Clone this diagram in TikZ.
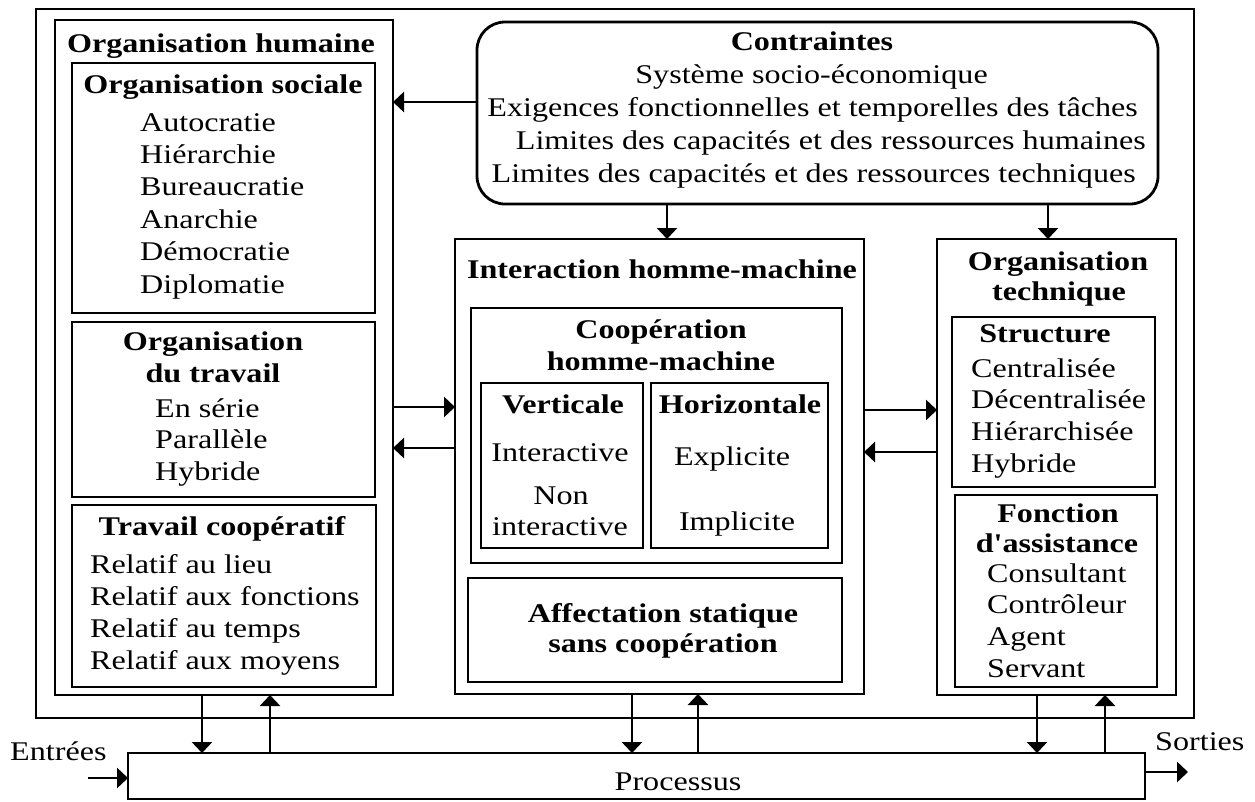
\documentclass[tikz,border=0pt]{standalone}
\usepackage{fontspec}
\setmainfont{Liberation Serif}[FakeStretch=1.19]
\newfontfamily\straightfont{Liberation Serif}[FakeStretch=1.19]
\usetikzlibrary{arrows.meta,fit}
\begin{document}
\begin{tikzpicture}[x=1pt,y=-1pt,
  box/.style={draw, line width=2.8pt, inner sep=0pt, outer sep=0pt},
  rbox/.style={box, rounded corners=28pt},
  arr/.style={line width=2.8pt, -{Triangle[length=11pt,width=20pt]}},
  t/.style={anchor=base, inner sep=0pt, font=\fontsize{27}{32}\selectfont},
  tl/.style={t, anchor=base west},
  tb/.style={t, font=\fontsize{27}{32}\selectfont\bfseries},
  tbe/.style={t, anchor=base east}]
\useasboundingbox (0,0) rectangle (1255,801);
% boxes
\node[box, fit={(36,9) (1194,718)}] (outer) {};
\node[box, fit={(55,20) (393,695)}] (oh) {};
\node[box, fit={(72,63) (375,313)}] (os) {};
\node[box, fit={(72,322) (375,497)}] (ot) {};
\node[box, fit={(72,505) (376,687)}] (tc) {};
\node[rbox, fit={(477,22) (1158,204)}] (contr) {};
\node[box, fit={(455,239) (864,694)}] (ihm) {};
\node[box, fit={(471,308) (842,563)}] (coop) {};
\node[box, fit={(481,383) (643,548)}] (vert) {};
\node[box, fit={(651,383) (828,548)}] (horiz) {};
\node[box, fit={(468,578) (842,682)}] (aff) {};
\node[box, fit={(937,239) (1176,695)}] (otech) {};
\node[box, fit={(952,317) (1155,487)}] (struct) {};
\node[box, fit={(955,495) (1157,687)}] (fonct) {};
\node[box, fit={(128,753) (1145,799)}] (proc) {};
% texts: organisation humaine
\node[tb] (tOH) at (221,52) {Organisation humaine};
\node[tb] (tOS) at (223,93) {Organisation sociale};
\node[tl] (s1) at (140,131) {Autocratie};
\node[tl] (s2) at (140,163) {Hiérarchie};
\node[tl] (s3) at (140,195) {Bureaucratie};
\node[tl] (s4) at (140,228) {Anarchie};
\node[tl] (s5) at (140,260) {Démocratie};
\node[tl] (s6) at (140,293) {Diplomatie};
\node[tb] (tOT1) at (213,350) {Organisation};
\node[tb] (tOT2) at (213,382) {du travail};
\node[tl] (w1) at (155,417) {En série};
\node[tl] (w2) at (155,448) {Parallèle};
\node[tl] (w3) at (155,480) {Hybride};
\node[tb] (tTC) at (222,535) {Travail coopératif};
\node[tl] (c1) at (90,573) {Relatif au lieu};
\node[tl] (c2) at (90,605) {Relatif aux fonctions};
\node[tl] (c3) at (90,637) {Relatif au temps};
\node[tl] (c4) at (90,669) {Relatif aux moyens};
% contraintes
\node[tb] (tC) at (812,50) {Contraintes};
\node[tbe] (k1) at (988,83) {Système socio-économique};
\node[tbe] (k2) at (1138,116) {Exigences fonctionnelles et temporelles des tâches};
\node[tbe] (k3) at (1146,149) {Limites des capacités et des ressources humaines};
\node[tbe] (k4) at (1136,182) {Limites des capacités et des ressources techniques};
% interaction
\node[tb] (tI) at (662,278) {Interaction homme-machine};
\node[tb] (tCo1) at (661,338) {Coopération};
\node[tb] (tCo2) at (661,370) {homme-machine};
\node[tb] (tV) at (563,413) {Verticale};
\node[tb] (tH) at (740,413) {Horizontale};
\node[t] (v1) at (560,461) {Interactive};
\node[t] (v2) at (561,504) {Non};
\node[t] (v3) at (560,535) {interactive};
\node[t] (h1) at (732,465) {Explicite};
\node[t] (h2) at (737,530) {Implicite};
\node[tb] (tA1) at (663,622) {Affectation statique};
\node[tb] (tA2) at (663,652) {sans coopération};
% organisation technique
\node[tb] (tT1) at (1058,270) {Organisation};
\node[tb] (tT2) at (1059,300) {technique};
\node[tb] (tS) at (1045,342) {Structure};
\node[tl] (r1) at (971,377) {Centralisée};
\node[tl] (r2) at (971,408) {Décentralisée};
\node[tl] (r3) at (971,440) {Hiérarchisée};
\node[tl] (r4) at (971,472) {Hybride};
\node[tb] (tF1) at (1058,522) {Fonction};
\node[tb] (tF2) at (1057,552) {d{\straightfont\bfseries '}assistance};
\node[tl] (f1) at (987,582) {Consultant};
\node[tl] (f2) at (987,613) {Contrôleur};
\node[tl] (f3) at (987,645) {Agent};
\node[tl] (f4) at (987,677) {Servant};
% process
\node[t] (tP) at (678,790) {Processus};
\node[tl] (tE) at (10,760) {Entrées};
\node[tl] (tSo) at (1155,750) {Sorties};
\coordinate (ein) at (88,778);
\coordinate (sout) at (1188,772);
% arrows
\draw[arr] (contr.west |- 0,102) -- (oh.east |- 0,102);
\draw[arr] (contr.south -| 667,0) -- (ihm.north -| 667,0);
\draw[arr] (contr.south -| 1048,0) -- (otech.north -| 1048,0);
\draw[arr] (oh.east |- 0,407) -- (ihm.west |- 0,407);
\draw[arr] (ihm.west |- 0,448) -- (oh.east |- 0,448);
\draw[arr] (ihm.east |- 0,410) -- (otech.west |- 0,410);
\draw[arr] (otech.west |- 0,452) -- (ihm.east |- 0,452);
\draw[arr] (oh.south -| 202,0) -- (proc.north -| 202,0);
\draw[arr] (proc.north -| 270,0) -- (oh.south -| 270,0);
\draw[arr] (ihm.south -| 632,0) -- (proc.north -| 632,0);
\draw[arr] (proc.north -| 698,0) -- (ihm.south -| 698,0);
\draw[arr] (otech.south -| 1037,0) -- (proc.north -| 1037,0);
\draw[arr] (proc.north -| 1105,0) -- (otech.south -| 1105,0);
\draw[arr] (ein) -- (proc.west |- ein);
\draw[arr] (proc.east |- sout) -- (sout);
\end{tikzpicture}
\end{document}
